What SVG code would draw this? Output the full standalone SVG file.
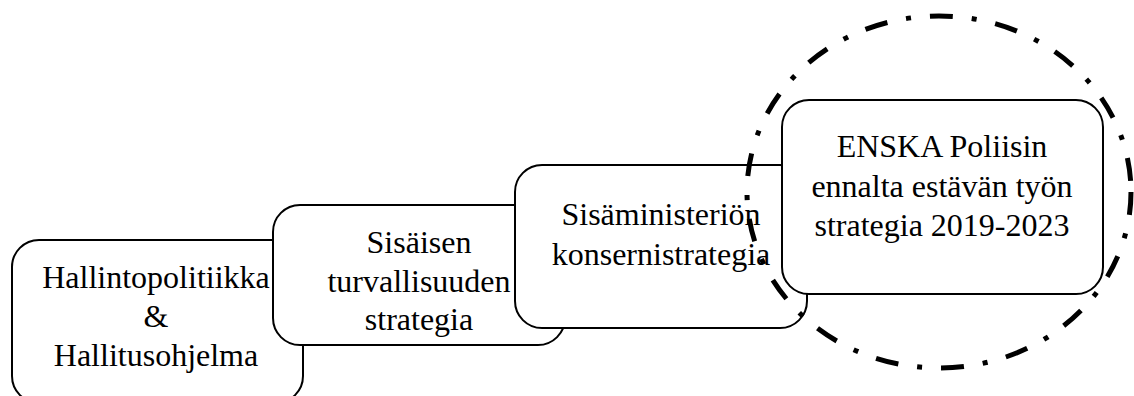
<svg xmlns="http://www.w3.org/2000/svg" width="1134" height="396" viewBox="0 0 1134 396">
<style>
.box{fill:#fff;stroke:#000;stroke-width:2}
.t{font-family:"Liberation Serif","Times New Roman",serif;font-size:32px;fill:#000;text-anchor:middle}
.ring{fill:none;stroke:#000;stroke-width:5;stroke-dasharray:23 19 5 19}
</style>
<rect width="1134" height="396" fill="#fff"/>
<g id="node1">
<rect class="box" x="12" y="240" width="291" height="163" rx="27"/>
<text class="t" x="156" y="288">Hallintopolitiikka</text>
<text class="t" x="156" y="327">&amp;</text>
<text class="t" x="156" y="366">Hallitusohjelma</text>
</g>
<g id="node2">
<rect class="box" x="273" y="205" width="292" height="140" rx="27"/>
<text class="t" x="419" y="253">Sisäisen</text>
<text class="t" x="419" y="292">turvallisuuden</text>
<text class="t" x="419" y="330">strategia</text>
</g>
<g id="node3">
<rect class="box" x="515" y="165" width="292" height="163" rx="27"/>
<text class="t" x="661" y="225">Sisäministeriön</text>
<text class="t" x="661" y="265">konsernistrategia</text>
</g>
<g id="node4">
<rect class="box" x="782" y="100" width="321" height="194" rx="27"/>
<text class="t" x="942" y="157">ENSKA Poliisin</text>
<text class="t" x="942" y="197">ennalta estävän työn</text>
<text class="t" x="942" y="236">strategia 2019-2023</text>
</g>
<g id="connectors">
<ellipse class="ring" cx="939" cy="192" rx="192" ry="176"/>
</g>
</svg>
